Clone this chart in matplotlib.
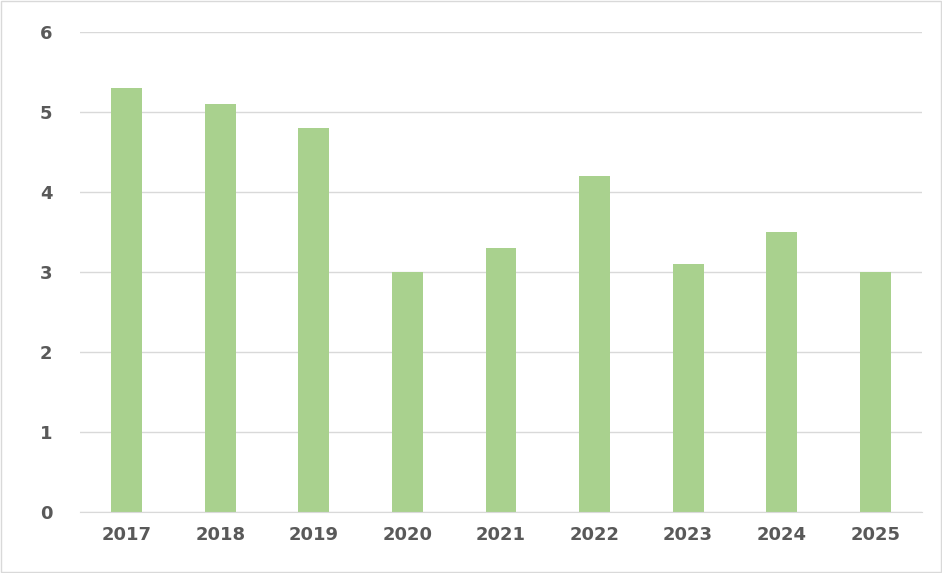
import matplotlib
matplotlib.use("Agg")
import matplotlib.pyplot as plt

years = ["2017", "2018", "2019", "2020", "2021", "2022", "2023", "2024", "2025"]
values = [5.3, 5.1, 4.8, 3.0, 3.3, 4.2, 3.1, 3.5, 3.0]

fig = plt.figure(figsize=(9.42, 5.73), dpi=100)
ax = fig.add_axes([80/942, 61/573, 842/942, 480/573])
x = range(len(years))
ax.bar(x, values, width=0.33, color="#A9D18E", zorder=2)
ax.set_xlim(-0.5, len(years) - 0.5)
ax.set_ylim(0, 6)
ax.set_yticks(range(7))
ax.set_xticks(list(x))
ax.set_xticklabels(years)
ax.grid(axis="y", color="#D9D9D9", linewidth=1, zorder=0)
for s in ["top", "right", "left"]:
    ax.spines[s].set_visible(False)
ax.spines["bottom"].set_color("#D9D9D9")
ax.tick_params(length=0, labelsize=13, colors="#595959", pad=10)
for t in ax.get_xticklabels() + ax.get_yticklabels():
    t.set_fontweight("bold")
ax.tick_params(axis="y", pad=20)
fig.patches.append(plt.Rectangle((0.001, 0.001), 0.998, 0.998, transform=fig.transFigure,
                                 fill=False, edgecolor="#D9D9D9", linewidth=1))
fig.savefig("out.png", dpi=100)
